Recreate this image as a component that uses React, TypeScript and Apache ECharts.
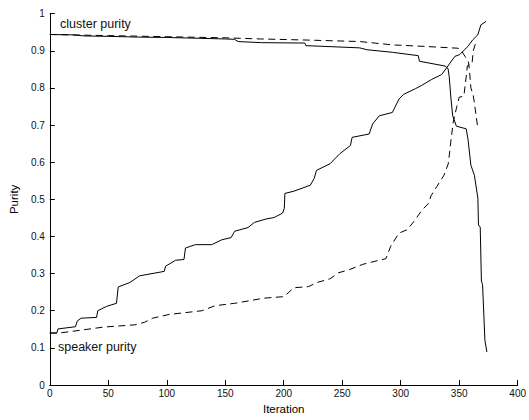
import React, { useEffect, useRef } from "react";
import * as echarts from "echarts";

// Iteration values (x) and purity (y)
const clusterSolid: [number, number][] = [
  [0, 0.944], [20, 0.943], [30, 0.94], [50, 0.939], [75, 0.937], [100, 0.936], [125, 0.934],
  [150, 0.932], [158, 0.931], [161, 0.925], [181, 0.922], [218, 0.921], [219, 0.914],
  [265, 0.908], [271, 0.903], [293, 0.896], [315, 0.887], [316, 0.872], [338, 0.859],
  [340.5, 0.852], [341.5, 0.83], [343, 0.77], [344.5, 0.725], [347.6, 0.697], [356, 0.69],
  [357.5, 0.663], [360, 0.592], [363, 0.565], [366, 0.503], [366.5, 0.431], [368, 0.425],
  [369, 0.28], [370, 0.27], [372, 0.12], [373.7, 0.089],
];

const speakerSolid: [number, number][] = [
  [0, 0.14], [6, 0.14], [7, 0.151], [22, 0.157], [23.4, 0.172], [26.8, 0.18], [40, 0.182],
  [41, 0.2], [48.7, 0.212], [57, 0.22], [58.5, 0.264], [68.4, 0.276], [76.8, 0.294],
  [90.8, 0.302], [97.8, 0.306], [99, 0.32], [107.6, 0.336], [114.7, 0.338], [116, 0.369],
  [124.5, 0.378], [138.5, 0.378], [147, 0.391], [155, 0.397], [158, 0.414], [169.4, 0.424],
  [175, 0.438], [184.8, 0.447], [191.8, 0.451], [199, 0.463], [200.5, 0.476], [201, 0.516],
  [208.7, 0.522], [222.7, 0.538], [226, 0.556], [228, 0.578], [239.6, 0.596], [248, 0.623],
  [257, 0.645], [258.5, 0.667], [273, 0.676], [276, 0.703], [281.7, 0.725], [292.9, 0.734],
  [298.5, 0.77], [302.7, 0.783], [312.6, 0.798], [318, 0.807], [326.5, 0.823], [335, 0.836],
  [339.2, 0.854], [346.3, 0.885], [350.5, 0.89], [353.3, 0.899], [357.5, 0.912],
  [361.7, 0.93], [365.9, 0.943], [368.6, 0.97], [372.9, 0.979],
];

const clusterDashed: [number, number][] = [
  [0, 0.944], [50, 0.941], [100, 0.938], [150, 0.935], [180, 0.932], [220, 0.929],
  [265, 0.925], [293, 0.916], [320, 0.912], [349, 0.907], [352, 0.9], [355, 0.885],
  [358, 0.87], [359, 0.84], [360, 0.8], [362, 0.78], [363, 0.76], [366, 0.69],
];

const speakerDashed: [number, number][] = [
  [0, 0.14], [8, 0.14], [18, 0.144], [46, 0.156], [72.6, 0.162], [81, 0.169], [88, 0.18],
  [102, 0.19], [130, 0.2], [141.3, 0.2135], [158, 0.22], [183.4, 0.234], [200.3, 0.238],
  [208.7, 0.262], [221.3, 0.265], [228.4, 0.276], [239.6, 0.286], [246.6, 0.302],
  [256.4, 0.311], [267.6, 0.325], [280.3, 0.335], [287.3, 0.34], [291.5, 0.374],
  [298.5, 0.409], [305.5, 0.418], [311.2, 0.44], [318, 0.47], [324, 0.49], [326, 0.51],
  [331, 0.535], [337, 0.565], [340.6, 0.595], [342, 0.63], [343, 0.66], [345, 0.71],
  [348, 0.75], [350, 0.775], [354, 0.778], [356, 0.83], [357, 0.86], [361, 0.865],
  [362, 0.9], [364, 0.92],
];

const annotations = ["cluster purity", "speaker purity"];
const xName = "Iteration";
const yName = "Purity";

const FONT = "'Liberation Sans', Arial, Helvetica, sans-serif";

export default function App() {
  const ref = useRef<HTMLDivElement>(null);
  useEffect(() => {
    if (!ref.current) return;
    const chart = echarts.init(ref.current, undefined, { renderer: "svg" });
    const lineBase = (data: [number, number][], dashed: boolean) => ({
      type: "line" as const,
      data,
      showSymbol: false,
      symbol: "none",
      lineStyle: { color: "#000", width: 1, type: dashed ? [7, 4.5] : "solid" },
      silent: true,
    });
    chart.setOption({
      animation: false,
      backgroundColor: "#fff",
      textStyle: { fontFamily: FONT },
      grid: { left: 45.5, top: 13.7, width: 475.5, height: 374.6, containLabel: false },
      xAxis: {
        type: "value",
        min: 0,
        max: 400,
        interval: 50,
        name: xName,
        nameLocation: "middle",
        nameGap: 18,
        nameTextStyle: { fontSize: 11.5, color: "#000", fontFamily: FONT },
        axisLine: { lineStyle: { color: "#000", width: 1 } },
        axisTick: { inside: true, length: 5, lineStyle: { color: "#000" } },
        axisLabel: { fontSize: 10, color: "#111", margin: 3, fontFamily: FONT },
        splitLine: { show: false },
      },
      yAxis: {
        type: "value",
        min: 0,
        max: 1,
        interval: 0.1,
        name: yName,
        nameLocation: "middle",
        nameGap: 24,
        nameTextStyle: { fontSize: 11.5, color: "#000", fontFamily: FONT },
        axisLine: { show: true, lineStyle: { color: "#000", width: 1 } },
        axisTick: { show: true, inside: true, length: 5, lineStyle: { color: "#000" } },
        axisLabel: { fontSize: 10, color: "#111", margin: 5, fontFamily: FONT },
        splitLine: { show: false },
      },
      series: [
        lineBase(clusterSolid, false),
        lineBase(speakerSolid, false),
        lineBase(clusterDashed, true),
        lineBase(speakerDashed, true),
      ],
      graphic: [
        {
          type: "text",
          x: 60,
          y: 23.5,
          style: {
            text: annotations[0],
            fontSize: 12.5,
            fontFamily: FONT,
            fill: "#111",
            verticalAlign: "middle",
          },
        },
        {
          type: "text",
          x: 58,
          y: 346.5,
          style: {
            text: annotations[1],
            fontSize: 12.5,
            fontFamily: FONT,
            fill: "#111",
            verticalAlign: "middle",
          },
        },
      ],
    });
    return () => chart.dispose();
  }, []);
  return (
    <div
      ref={ref}
      style={{ position: "fixed", left: 0, top: 0, width: 529, height: 420, background: "#fff" }}
    />
  );
}
